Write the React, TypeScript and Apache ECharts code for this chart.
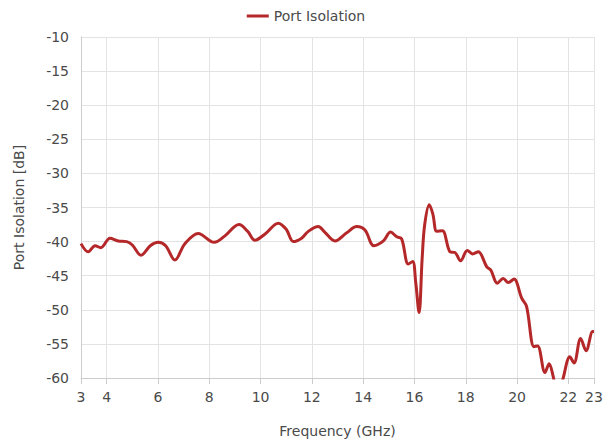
import React, { useEffect, useRef } from "react";
import * as echarts from "echarts";

const freq = [
  3.0, 3.28, 3.55, 3.77, 4.13, 4.45, 4.78, 5.0, 5.34, 5.7, 6.01, 6.3, 6.66, 7.05, 7.57, 8.19, 8.6, 9.16, 9.5, 9.78,
  10.2, 10.69, 11.0, 11.28, 11.6, 11.86, 12.25, 12.5, 12.9, 13.36, 13.75, 14.07, 14.42, 14.79, 15.07, 15.31, 15.5,
  15.76, 15.93, 16.05, 16.18, 16.3, 16.4, 16.58, 16.72, 16.87, 17.09, 17.39, 17.58, 17.8, 18.06, 18.27, 18.49,
  18.82, 18.98, 19.23, 19.46, 19.66, 19.88, 20.18, 20.37, 20.66, 20.8, 21.09, 21.25, 21.41, 21.6, 21.8, 22.06,
  22.22, 22.48, 22.69, 22.95, 23.0,
];
const isolation = [
  -40.3, -41.5, -40.6, -40.9, -39.5, -39.9, -40.0, -40.5, -42.0, -40.6, -40.1, -40.6, -42.7, -40.3, -38.8, -40.1,
  -39.2, -37.5, -38.5, -39.8, -38.8, -37.3, -38.2, -40.0, -39.5, -38.5, -37.8, -38.6, -39.9, -38.7, -37.8, -38.3,
  -40.6, -39.9, -38.6, -39.3, -39.6, -43.3, -42.9, -46.0, -50.4, -42.5, -37.5, -34.6, -36.0, -38.5, -38.4, -41.5,
  -41.6, -42.8, -41.3, -41.8, -41.5, -43.7, -44.2, -46.1, -45.4, -46.0, -45.5, -48.3, -49.5, -55.4, -55.3, -59.2,
  -57.9, -59.8, -63.0, -60.0, -56.9, -57.8, -54.2, -56.0, -53.2, -53.2,
];
const xTicks = [3, 4, 6, 8, 10, 12, 14, 16, 18, 20, 22, 23];

const FONT = "'DejaVu Sans', sans-serif";
const TEXT = "#4a4a4a";

export default function App() {
  const ref = useRef<HTMLDivElement>(null);
  useEffect(() => {
    document.body.style.margin = "0";
    if (!ref.current) return;
    const chart = echarts.init(ref.current, null, { renderer: "svg" });
    chart.setOption({
      animation: false,
      textStyle: { fontFamily: FONT },
      legend: {
        top: 4,
        left: "center",
        icon: "rect",
        itemWidth: 22,
        itemHeight: 3,
        textStyle: { color: TEXT, fontSize: 14, fontFamily: FONT },
        data: ["Port Isolation"],
      },
      grid: { left: 81, right: 18, top: 37, bottom: 66 },
      xAxis: {
        type: "value",
        min: 3,
        max: 23,
        name: "Frequency (GHz)",
        nameLocation: "middle",
        nameGap: 46,
        nameTextStyle: { color: TEXT, fontSize: 14, fontFamily: FONT },
        axisLine: { show: true, lineStyle: { color: "#ccc" } },
        axisTick: { show: true, length: 6, lineStyle: { color: "#ccc" }, customValues: xTicks },
        axisLabel: { color: TEXT, fontSize: 14, fontFamily: FONT, margin: 12, customValues: xTicks },
        splitLine: { show: true, lineStyle: { color: "#e3e3e3" } },
      },
      yAxis: {
        type: "value",
        min: -60,
        max: -10,
        interval: 5,
        name: "Port Isolation [dB]",
        nameLocation: "middle",
        nameGap: 55,
        nameTextStyle: { color: TEXT, fontSize: 14, fontFamily: FONT },
        axisLine: { show: true, lineStyle: { color: "#ccc" } },
        axisTick: { show: false },
        axisLabel: { color: TEXT, fontSize: 14, fontFamily: FONT, margin: 12 },
        splitLine: { show: true, lineStyle: { color: "#e3e3e3" } },
      },
      series: [
        {
          name: "Port Isolation",
          type: "line",
          data: freq.map((f, i) => [f, isolation[i]]),
          showSymbol: false,
          smooth: 0.35,
          clip: true,
          lineStyle: { color: "#b5282a", width: 3 },
          itemStyle: { color: "#b5282a" },
        },
      ],
    });
    return () => chart.dispose();
  }, []);
  return <div ref={ref} style={{ width: 612, height: 444 }} />;
}
